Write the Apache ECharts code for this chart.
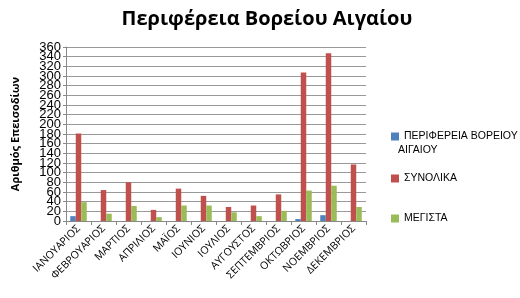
<!DOCTYPE html>
<html><head><meta charset="utf-8">
<script src="https://cdn.jsdelivr.net/npm/echarts@6/dist/echarts.min.js"></script>
<style>html,body{margin:0;padding:0;background:#fff}#c{width:520px;height:298px}</style>
</head><body><div id="c"></div>
<script>
var categories = ['ΙΑΝΟΥΑΡΙΟΣ','ΦΕΒΡΟΥΑΡΙΟΣ','ΜΑΡΤΙΟΣ','ΑΠΡΙΛΙΟΣ','ΜΑΪΟΣ','ΙΟΥΝΙΟΣ','ΙΟΥΛΙΟΣ','ΑΥΓΟΥΣΤΟΣ','ΣΕΠΤΕΜΒΡΙΟΣ','ΟΚΤΩΒΡΙΟΣ','ΝΟΕΜΒΡΙΟΣ','ΔΕΚΕΜΒΡΙΟΣ'];
var seriesNames = ['ΠΕΡΙΦΕΡΕΙΑ ΒΟΡΕΙΟΥ ΑΙΓΑΙΟΥ','ΣΥΝΟΛΙΚΑ','ΜΕΓΙΣΤΑ'];
var perifereia = [10, 0, 0, 0, 0, 0, 0, 0, 0, 4, 12, 0];
var synolika = [181, 64, 80, 23, 67, 52, 29, 32, 55, 307, 347, 117];
var megista = [39, 15, 31, 8, 32, 32, 18, 10, 21, 63, 73, 29];
var yTicks = {min: 0, max: 360, interval: 20};

var colors = ['#4F81BD','#C0504D','#9BBB59'];
var font = '"Open Sans", "DejaVu Sans", sans-serif';
var lfont = '"Liberation Sans", sans-serif';
var chart = echarts.init(document.getElementById('c'));
function legend(i, top, text){
  return {show:true, data:[seriesNames[i]], left:386, top:top, orient:'vertical',
    itemWidth:8, itemHeight:8, itemGap:4, icon:'rect',
    formatter: function(){return text;},
    textStyle:{fontFamily:lfont, fontSize:10.5, color:'#000'}};
}
function yAxisDef(show, fmt){
  return {type:'value', position:'left', min:yTicks.min, max:yTicks.max, interval:yTicks.interval,
    name: show ? 'Αριθμός Επεισοδίων' : '', nameLocation:'middle', nameGap:45, nameRotate:90,
    nameTextStyle:{fontFamily:font, fontSize:11, fontWeight:'bold', color:'#000'},
    axisLine:{show:show, lineStyle:{color:'#888'}},
    axisTick:{show:show, length:3, lineStyle:{color:'#888'}},
    axisLabel:{fontFamily:lfont, fontSize:13, color:'#000', margin:5,
      showMinLabel:true, showMaxLabel:true, hideOverlap:false, formatter:fmt},
    splitLine:{show:show, lineStyle:{color:'#999'}}};
}
chart.setOption({
  animation:false,
  title:{text:'Περιφέρεια Βορείου Αιγαίου', left:262, top:4, textAlign:'center',
    textStyle:{fontFamily:font, fontSize:20, fontWeight:'bold', color:'#000'}},
  legend:[legend(0,126,'ΠΕΡΙΦΕΡΕΙΑ ΒΟΡΕΙΟΥ'), legend(1,168,'ΣΥΝΟΛΙΚΑ'), legend(2,208,'ΜΕΓΙΣΤΑ')],
  graphic:[{type:'text', left:398, top:145, style:{text:'ΑΙΓΑΙΟΥ', fontFamily:lfont, fontSize:10.5, fill:'#000'}}],
  grid:{left:66, top:47, width:300, height:174, containLabel:false},
  xAxis:{type:'category', data:categories,
    axisLine:{lineStyle:{color:'#888'}},
    axisTick:{show:true, length:4, lineStyle:{color:'#888'}},
    axisLabel:{interval:0, rotate:45, fontFamily:font, fontSize:10.5, color:'#000', margin:6}},
  yAxis:[
    yAxisDef(true, function(v){ return (v === 20 || v === 340) ? '' : String(v); }),
    yAxisDef(false, function(v){ return (v === 20 || v === 340) ? String(v) : ''; })
  ],
  series:[
    {name:seriesNames[0], type:'bar', data:perifereia, itemStyle:{color:colors[0]}, barGap:'0%', barCategoryGap:'34%'},
    {name:seriesNames[1], type:'bar', data:synolika, itemStyle:{color:colors[1]}, barGap:'0%', barCategoryGap:'34%'},
    {name:seriesNames[2], type:'bar', data:megista, itemStyle:{color:colors[2]}, barGap:'0%', barCategoryGap:'34%'}
  ]
});
</script></body></html>
